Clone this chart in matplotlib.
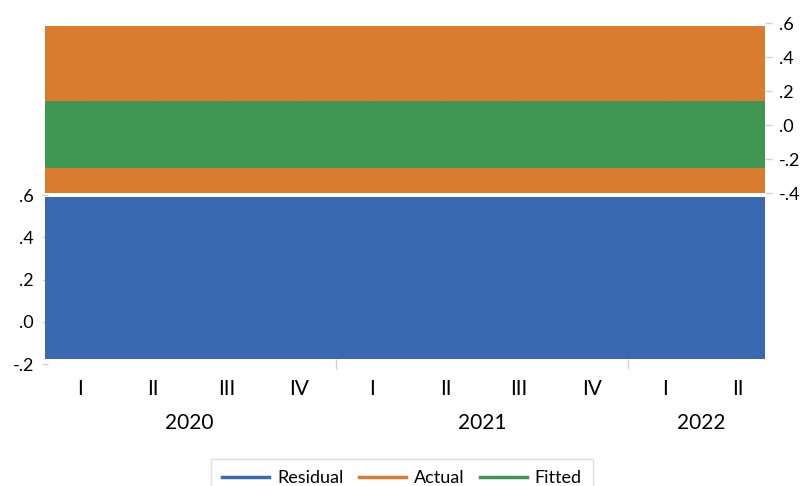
import matplotlib
matplotlib.use("Agg")
import matplotlib.pyplot as plt
from matplotlib.lines import Line2D
import numpy as np

plt.rcParams['font.family'] = ['Lato', 'DejaVu Sans']

quarters = ["I", "II", "III", "IV", "I", "II", "III", "IV", "I", "II"]
years = ["2020", "2021", "2022"]
year_quarter_counts = [4, 4, 2]
actual = [0.097] * 10
fitted = [-0.05] * 10
residual = [0.207] * 10

c_res = "#396AB1"
c_act = "#DA7C30"
c_fit = "#3E9651"

W, H = 802, 486
fig = plt.figure(figsize=(W / 100, H / 100), dpi=100)

def rect(x0, y0, x1, y1):
    return [x0 / W, 1 - y1 / H, (x1 - x0) / W, (y1 - y0) / H]

x = np.arange(len(quarters))
xlim = (-0.48, 9.37)
tick_col = "#d0d0d0"
fs_y = 13
fs_x = 15

def band(ax, vals, color, lw):
    # each quarter drawn as a flat segment spanning its period
    for xi, v in zip(x, vals):
        ax.plot([xi - 0.5, xi + 0.5], [v, v], color=color, lw=lw,
                solid_capstyle='projecting')

ax_top = fig.add_axes(rect(45, 23, 765, 193))
ax_bot = fig.add_axes(rect(45, 195, 765, 364))

band(ax_top, actual, c_act, 120.2)
band(ax_top, fitted, c_fit, 48.2)
ax_top.set_ylim(-0.4, 0.6)
ax_top.set_xlim(*xlim)
ax_top.yaxis.tick_right()
ax_top.set_yticks([0.6, 0.4, 0.2, 0.0, -0.2, -0.4])
ax_top.set_yticklabels([".6", ".4", ".2", ".0", "-.2", "-.4"], fontsize=fs_y)
ax_top.tick_params(axis='y', colors=tick_col, labelcolor='black', length=5, width=1, pad=5)
ax_top.set_xticks([])
for s in ax_top.spines.values():
    s.set_visible(False)
ax_top.patch.set_alpha(0)

band(ax_bot, residual, c_res, 116.6)
ax_bot.set_ylim(-0.2, 0.6)
ax_bot.set_xlim(*xlim)
ax_bot.set_yticks([0.6, 0.4, 0.2, 0.0, -0.2])
ax_bot.set_yticklabels([".6", ".4", ".2", ".0", "-.2"], fontsize=fs_y)
ax_bot.tick_params(axis='y', colors=tick_col, labelcolor='black', length=4, width=1, pad=6, direction='inout')
ax_bot.set_xticks(x)
ax_bot.set_xticklabels(quarters, fontsize=fs_x)
ax_bot.tick_params(axis='x', which='major', length=0, pad=10.5)
bounds = np.cumsum(year_quarter_counts)[:-1] - 0.5
ax_bot.set_xticks(bounds, minor=True)
ax_bot.tick_params(axis='x', which='minor', length=7, direction='inout', colors=tick_col, width=1)
for s in ax_bot.spines.values():
    s.set_visible(False)
ax_bot.patch.set_alpha(0)

start = 0
for yr, n in zip(years, year_quarter_counts):
    cx = start + (n - 1) / 2
    ax_bot.text(cx, -58.5 / 169 * 0.8 - 0.2, yr, ha='center', va='center', fontsize=fs_x,
                transform=ax_bot.transData, clip_on=False)
    start += n

handles = [Line2D([], [], color=c_res, lw=2.5),
           Line2D([], [], color=c_act, lw=2.5),
           Line2D([], [], color=c_fit, lw=2.5)]
leg = fig.legend(handles, ["Residual", "Actual", "Fitted"], loc='upper center',
                 bbox_to_anchor=(0.501, 1 - 459 / H), ncol=3, frameon=True, fancybox=False,
                 fontsize=13, handlelength=2.6, borderpad=0.6, columnspacing=0.85,
                 handletextpad=0.45, borderaxespad=0)
leg.get_frame().set_edgecolor("#d8d8d8")
leg.get_frame().set_linewidth(1)

fig.savefig("out.png", dpi=100)
